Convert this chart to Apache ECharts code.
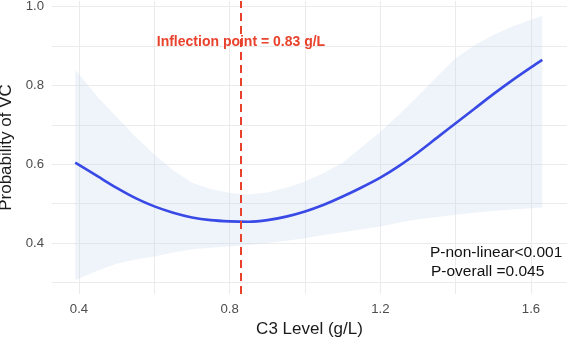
<!DOCTYPE html>
<html>
<head>
<meta charset="utf-8">
<script src="https://cdn.jsdelivr.net/npm/echarts@6/dist/echarts.min.js"></script>
<style>html,body{margin:0;padding:0;background:#fff}#c{width:567px;height:340px}</style>
</head>
<body>
<div id="c"></div>
<script>
// C3 level (g/L)
const c3Level = [0.39, 0.45, 0.50, 0.55, 0.60, 0.65, 0.70, 0.75, 0.80, 0.85, 0.90, 0.95, 1.00, 1.05, 1.10, 1.15, 1.20, 1.25, 1.30, 1.35, 1.40, 1.45, 1.50, 1.55, 1.60, 1.63];
// predicted probability of VC
const probFit = [0.604, 0.569, 0.540, 0.514, 0.493, 0.477, 0.465, 0.458, 0.455, 0.454, 0.458, 0.467, 0.480, 0.497, 0.518, 0.541, 0.566, 0.596, 0.630, 0.667, 0.704, 0.741, 0.778, 0.813, 0.846, 0.865];
// 95% CI upper / lower
const probUpper = [0.840, 0.770, 0.720, 0.670, 0.625, 0.585, 0.553, 0.537, 0.527, 0.523, 0.528, 0.540, 0.556, 0.578, 0.604, 0.643, 0.682, 0.726, 0.773, 0.822, 0.869, 0.902, 0.928, 0.950, 0.967, 0.977];
const probLower = [0.306, 0.330, 0.347, 0.358, 0.366, 0.376, 0.384, 0.388, 0.391, 0.395, 0.400, 0.406, 0.412, 0.420, 0.427, 0.435, 0.442, 0.452, 0.460, 0.466, 0.472, 0.477, 0.481, 0.485, 0.488, 0.490];
const inflection = 0.83;
const xTickLabels = [0.4, 0.8, 1.2, 1.6];
const yTickLabels = [0.4, 0.6, 0.8, 1.0];
const annotationText = 'Inflection point = 0.83 g/L';
const pTexts = ['P-non-linear<0.001', 'P-overall =0.045'];

const chart = echarts.init(document.getElementById('c'), null, {renderer: 'canvas'});
const font = 'Liberation Sans, Arial, Helvetica, sans-serif';
const gridColor = '#EBEBEB';

const bandData = c3Level.map((x, i) => [x, probLower[i], probUpper[i]]);

chart.setOption({
  animation: false,
  backgroundColor: '#fff',
  grid: {left: 52, right: 0, top: 1, bottom: 46, containLabel: false, outerBoundsMode: 'none'},
  xAxis: {
    type: 'value', min: 0.3283, max: 1.6956, splitNumber: 7,
    axisLine: {show: false}, axisTick: {show: false},
    axisLabel: {
      customValues: xTickLabels, margin: 9, color: '#4D4D4D', fontSize: 13.2, fontFamily: font,
      formatter: v => v.toFixed(1)
    },
    splitLine: {show: true, showMinLine: false, showMaxLine: false, lineStyle: {color: gridColor, width: 1}},
    name: 'C3 Level (g/L)', nameLocation: 'middle', nameGap: 25,
    nameTextStyle: {color: '#1a1a1a', fontSize: 17, fontFamily: font}
  },
  yAxis: {
    type: 'value', min: 0.2705, max: 1.0145, splitNumber: 8,
    axisLine: {show: false}, axisTick: {show: false},
    axisLabel: {
      customValues: yTickLabels, margin: 8, color: '#4D4D4D', fontSize: 13.2, fontFamily: font,
      formatter: v => v.toFixed(1)
    },
    splitLine: {show: true, showMinLine: false, showMaxLine: false, lineStyle: {color: gridColor, width: 1}},
    name: 'Probability of VC', nameLocation: 'middle', nameGap: 31,
    nameTextStyle: {color: '#1a1a1a', fontSize: 17, fontFamily: font}
  },
  series: [
    {
      type: 'custom',
      data: bandData,
      encode: {x: 0, y: [1, 2]},
      silent: true,
      z: 1,
      renderItem: function (params, api) {
        if (params.dataIndex !== 0) return null;
        const pts = [];
        for (let i = 0; i < c3Level.length; i++) pts.push(api.coord([c3Level[i], probUpper[i]]));
        for (let i = c3Level.length - 1; i >= 0; i--) pts.push(api.coord([c3Level[i], probLower[i]]));
        return {type: 'polygon', shape: {points: pts}, style: {fill: 'rgba(190,210,235,0.25)'}};
      }
    },
    {
      type: 'line',
      data: c3Level.map((x, i) => [x, probFit[i]]),
      smooth: 0.3,
      symbol: 'none',
      z: 3,
      lineStyle: {color: '#3949E6', width: 2.6},
      markLine: {
        silent: true, symbol: 'none',
        label: {show: false},
        lineStyle: {color: '#E8412C', width: 2, type: [8, 5]},
        data: [{xAxis: inflection}]
      }
    }
  ]
});

// annotation texts positioned via the chart's own coordinate conversion
const ann = chart.convertToPixel({gridIndex: 0}, [inflection, 0.91]);
chart.setOption({
  graphic: [
    {type: 'text', x: ann[0], y: ann[1], style: {text: annotationText, fill: '#E8412C', font: 'bold 14px ' + font, align: 'center', verticalAlign: 'middle'}, z: 10},
    {type: 'text', x: 430, y: 253, style: {text: pTexts[0], fill: '#111', font: '15.5px ' + font, align: 'left', verticalAlign: 'middle'}, z: 10},
    {type: 'text', x: 431, y: 272, style: {text: pTexts[1], fill: '#111', font: '15.5px ' + font, align: 'left', verticalAlign: 'middle'}, z: 10}
  ]
});
</script>
</body>
</html>
